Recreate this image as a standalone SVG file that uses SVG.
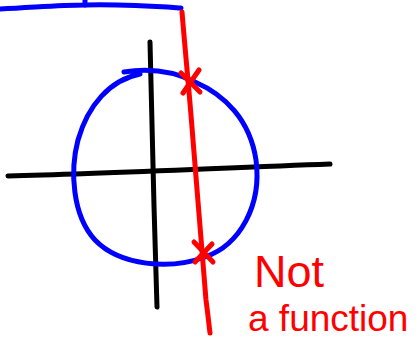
<svg xmlns="http://www.w3.org/2000/svg" width="419" height="340" viewBox="0 0 419 340">
<style>
.s{fill:none;stroke-width:5;stroke-linecap:round;stroke-linejoin:round}
.b{stroke:#0000ff}
.k{stroke:#000000}
.r{stroke:#ff0000}
.t{fill:#ff0000;font-family:"Liberation Sans",Arial,sans-serif}
</style>
<rect width="419" height="340" fill="#ffffff"/>
<g id="top-line">
<path class="s b" d="M0,9 C40,7 60,5 85,5 C120,4 150,6 181,8"/>
<path class="s b" d="M85,0 L85,5"/>
</g>
<g id="axes">
<path class="s k" d="M150,42 C152,120 154,220 157,307"/>
<path class="s k" d="M8,176 C100,174 220,168 330,164"/>
</g>
<g id="circle">
<path class="s b" d="M124,72 C150,68 175,72 195,82 C225,95 250,120 256,160 C262,205 240,245 205,257 C170,270 120,266 95,240 C72,215 70,170 78,140 C88,105 110,80 140,74"/>
</g>
<g id="vertical-line">
<path class="s r" d="M182,12 C186,60 190,100 193,140 C198,200 203,260 206,300 C208,315 209,325 210,333"/>
</g>
<g id="crosses">
<path class="s r" d="M181,73 L200,92 M183,93 L199,70"/>
<path class="s r" d="M194,242 L213,262 M195,262 L212,244"/>
</g>
<g id="label">
<text class="t" x="254" y="287" font-size="45">Not</text>
<text class="t" x="248" y="331" font-size="37">a function</text>
</g>
</svg>
